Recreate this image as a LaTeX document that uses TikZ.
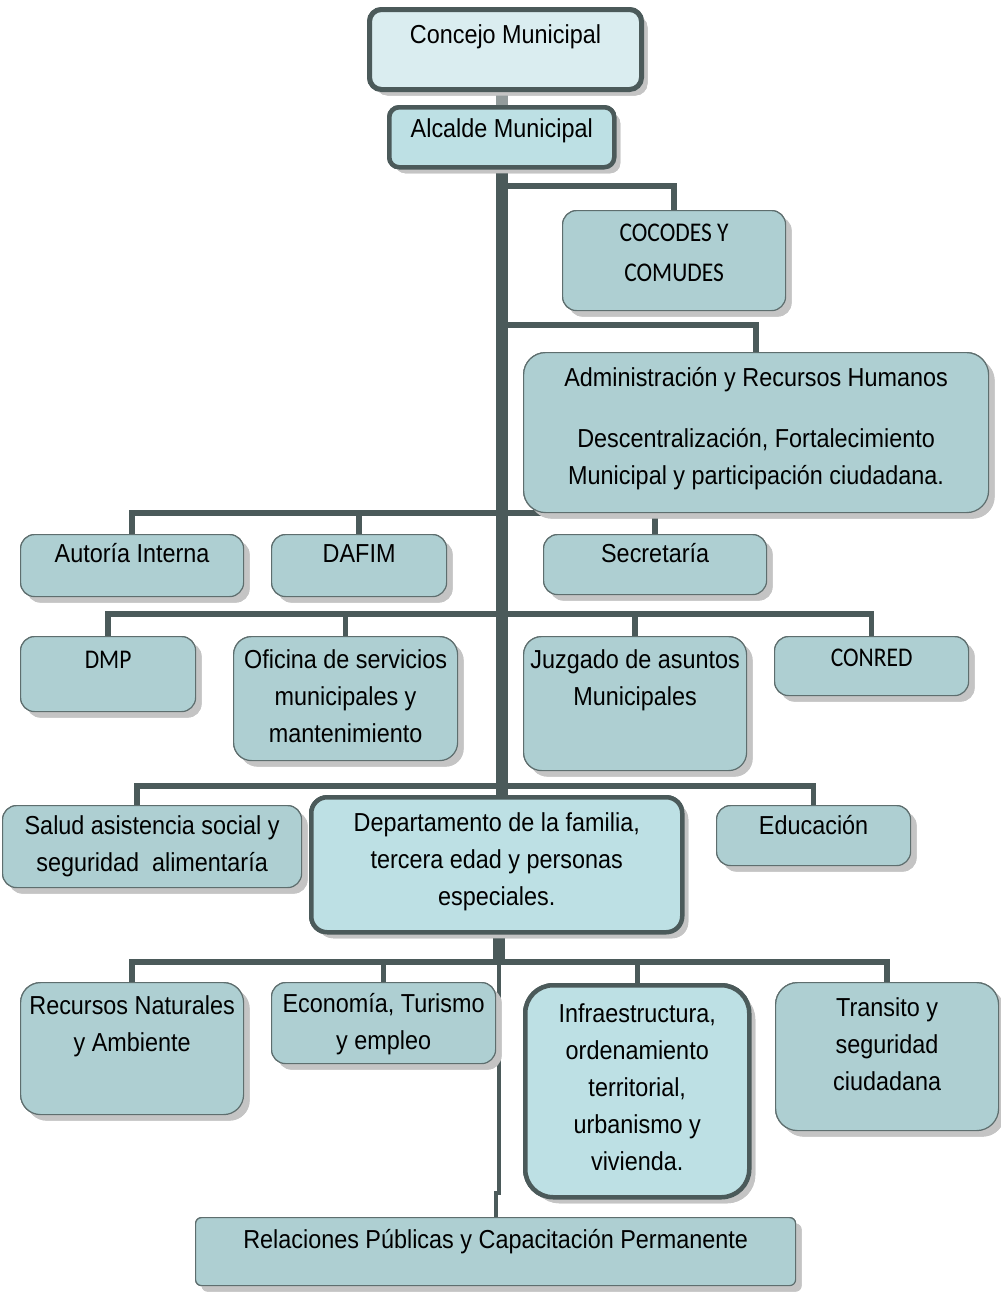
\documentclass[tikz,border=0pt]{standalone}
\usepackage{fontspec}
\setmainfont{Liberation Sans}[FakeStretch=0.9]
\newfontfamily\calibrifont{Carlito}[FakeStretch=0.87]
\usetikzlibrary{shadows}

\definecolor{linegray}{HTML}{4B5A5A}
\definecolor{edgegray}{HTML}{5E6E6E}
\definecolor{boxfill}{HTML}{AECFD2}
\definecolor{mainfill}{HTML}{BDE0E4}
\definecolor{topfill}{HTML}{DAEDF0}
\definecolor{shadowgray}{HTML}{C4C4C4}

% Styles for the boxes, the texts and the connecting lines
\tikzset{
  box/.style={draw=edgegray, line width=1.2pt, fill=boxfill, rounded corners=14pt,
    anchor=north west, inner sep=0pt,
    drop shadow={shadow xshift=6pt, shadow yshift=-6pt, fill=shadowgray, opacity=1}},
  mainbox/.style={box, draw=linegray, line width=4.5pt, fill=mainfill},
  txt/.style={anchor=base, align=center, inner sep=0pt, font=\fontsize{26}{37}\selectfont},
  ctxt/.style={anchor=base, align=center, inner sep=0pt, font=\calibrifont\fontsize{27}{40}\selectfont},
  branch/.style={draw=linegray, line width=5.5pt},
  spine/.style={draw=linegray, line width=12pt}
}

\begin{document}
\begin{tikzpicture}[x=1pt, y=-1pt]
\useasboundingbox (0,0) rectangle (1001,1293);

% Points where the branches leave the main line
\coordinate (b1) at (499,186);
\coordinate (b2) at (499,325);
\coordinate (b3) at (499,513);
\coordinate (b4) at (499,614);
\coordinate (b5) at (499,786);
\coordinate (b6) at (499,962);
\coordinate (jog) at (499,1193);

% Boxes (only placed here, drawn after the lines)
\path
  node[mainbox, fill=topfill, line width=5pt, rounded corners=12pt, minimum width=272pt, minimum height=80pt] (concejo) at (367,7) {}
  node[mainbox, rounded corners=10pt, minimum width=225pt, minimum height=60pt] (alcalde) at (387,105) {}
  node[box, minimum width=223pt, minimum height=100pt] (cocodes) at (562,210) {}
  node[box, rounded corners=22pt, minimum width=465pt, minimum height=160pt] (admin) at (523,352) {}
  node[box, minimum width=223pt, minimum height=62pt] (autoria) at (20,534) {}
  node[box, minimum width=175pt, minimum height=62pt] (dafim) at (271,534) {}
  node[box, minimum width=223pt, minimum height=60pt] (secretaria) at (543,534) {}
  node[box, minimum width=175pt, minimum height=75pt] (dmp) at (20,636) {}
  node[box, rounded corners=18pt, minimum width=224pt, minimum height=124pt] (oficina) at (233,636) {}
  node[box, rounded corners=18pt, minimum width=223pt, minimum height=134pt] (juzgado) at (523,636) {}
  node[box, minimum width=194pt, minimum height=59pt] (conred) at (774,636) {}
  node[box, minimum width=299pt, minimum height=82pt] (salud) at (2,805) {}
  node[mainbox, rounded corners=16pt, minimum width=371pt, minimum height=135pt] (depto) at (309,795) {}
  node[box, minimum width=194pt, minimum height=60pt] (educacion) at (716,805) {}
  node[box, rounded corners=20pt, minimum width=223pt, minimum height=132pt] (recursos) at (20,982) {}
  node[box, minimum width=224pt, minimum height=81pt] (economia) at (271,982) {}
  node[mainbox, rounded corners=28pt, minimum width=224pt, minimum height=212pt] (infra) at (523,983) {}
  node[box, rounded corners=22pt, minimum width=223pt, minimum height=148pt] (transito) at (775,982) {}
  node[box, rounded corners=6pt, minimum width=600pt, minimum height=68pt] (relaciones) at (195,1217) {};

% Lines
\draw[spine, draw=linegray!60] (alcalde.north) -- (alcalde.north |- concejo.south);
\draw[spine] (alcalde.south) -- (alcalde.south |- depto.north);
\draw[branch] (b1) -| (cocodes.north);
\draw[branch] (b2) -| (admin.north);
\draw[branch] (autoria.north) |- (b3) -| (secretaria.north);
\draw[branch] (dafim.north) -- (dafim.north |- b3);
\draw[branch] (dmp.north) |- (b4) -| (conred.north);
\draw[branch] (oficina.north) -- (oficina.north |- b4);
\draw[branch] (juzgado.north) -- (juzgado.north |- b4);
\draw[branch] ([xshift=-15pt]salud.north) |- (b5) -| (educacion.north);
\draw[spine] (depto.south -| b6) -- (b6);
\draw[branch] (recursos.north) |- (b6) -| (transito.north);
\draw[branch] (economia.north) -- (economia.north |- b6);
\draw[branch] (infra.north) -- (infra.north |- b6);
\draw[branch, line width=4pt] (b6) -- (jog) -| (relaciones.north);

% Draw the boxes on top of the lines
\path
  node[mainbox, fill=topfill, line width=5pt, rounded corners=12pt, minimum width=272pt, minimum height=80pt] at (367,7) {}
  node[mainbox, rounded corners=10pt, minimum width=225pt, minimum height=60pt] at (387,105) {}
  node[box, minimum width=223pt, minimum height=100pt] at (562,210) {}
  node[box, rounded corners=22pt, minimum width=465pt, minimum height=160pt] at (523,352) {}
  node[box, minimum width=223pt, minimum height=62pt] at (20,534) {}
  node[box, minimum width=175pt, minimum height=62pt] at (271,534) {}
  node[box, minimum width=223pt, minimum height=60pt] at (543,534) {}
  node[box, minimum width=175pt, minimum height=75pt] at (20,636) {}
  node[box, rounded corners=18pt, minimum width=224pt, minimum height=124pt] at (233,636) {}
  node[box, rounded corners=18pt, minimum width=223pt, minimum height=134pt] at (523,636) {}
  node[box, minimum width=194pt, minimum height=59pt] at (774,636) {}
  node[box, minimum width=299pt, minimum height=82pt] at (2,805) {}
  node[mainbox, rounded corners=16pt, minimum width=371pt, minimum height=135pt] at (309,795) {}
  node[box, minimum width=194pt, minimum height=60pt] at (716,805) {}
  node[box, rounded corners=20pt, minimum width=223pt, minimum height=132pt] at (20,982) {}
  node[box, minimum width=224pt, minimum height=81pt] at (271,982) {}
  node[mainbox, rounded corners=28pt, minimum width=224pt, minimum height=212pt] at (523,983) {}
  node[box, rounded corners=22pt, minimum width=223pt, minimum height=148pt] at (775,982) {}
  node[box, rounded corners=6pt, minimum width=600pt, minimum height=68pt] at (195,1217) {};

% Texts (base anchor = last line, so shift by the lines above it)
\node[txt] (t-concejo) at ([yshift=-36pt]concejo.north) {Concejo Municipal};
\node[txt] (t-alcalde) at ([yshift=-32pt]alcalde.north) {Alcalde Municipal};
\node[ctxt] (t-cocodes) at ([yshift=-71pt]cocodes.north) {COCODES Y\\COMUDES};
\node[txt] (t-admin) at ([yshift=-132pt]admin.north) {Administración y Recursos Humanos\\[24pt]Descentralización, Fortalecimiento\\Municipal y participación ciudadana.};
\node[txt] (t-autoria) at ([yshift=-28pt]autoria.north) {Autoría Interna};
\node[txt] (t-dafim) at ([yshift=-28pt]dafim.north) {DAFIM};
\node[txt] (t-secretaria) at ([yshift=-28pt]secretaria.north) {Secretaría};
\node[ctxt] (t-dmp) at ([yshift=-32pt]dmp.north) {DMP};
\node[txt] (t-oficina) at ([yshift=-106pt]oficina.north) {Oficina de servicios\\municipales y\\mantenimiento};
\node[txt] (t-juzgado) at ([yshift=-69pt]juzgado.north) {Juzgado de asuntos\\Municipales};
\node[ctxt] (t-conred) at ([yshift=-30pt]conred.north) {CONRED};
\node[txt] (t-salud) at ([yshift=-66pt]salud.north) {Salud asistencia social y\\seguridad\ \ alimentaría};
\node[txt] (t-depto) at ([yshift=-110pt]depto.north) {Departamento de la familia,\\tercera edad y personas\\especiales.};
\node[txt] (t-educacion) at ([yshift=-29pt]educacion.north) {Educación};
\node[txt] (t-recursos) at ([yshift=-69pt]recursos.north) {Recursos Naturales\\y Ambiente};
\node[txt] (t-economia) at ([yshift=-67pt]economia.north) {Economía, Turismo\\y empleo};
\node[txt] (t-infra) at ([yshift=-187pt]infra.north) {Infraestructura,\\ordenamiento\\territorial,\\urbanismo y\\vivienda.};
\node[txt] (t-transito) at ([yshift=-108pt]transito.north) {Transito y\\seguridad\\ciudadana};
\node[txt] (t-relaciones) at ([yshift=-31pt]relaciones.north) {Relaciones Públicas y Capacitación Permanente};
\end{tikzpicture}
\end{document}
